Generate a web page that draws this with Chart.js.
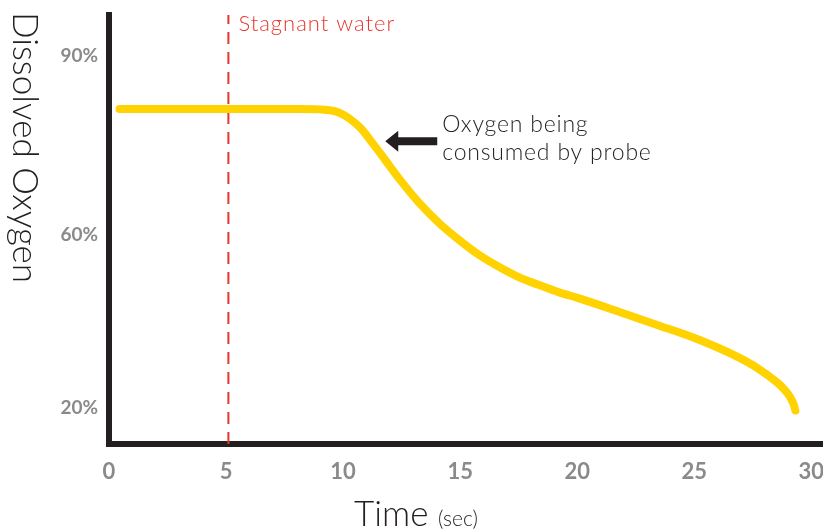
<!DOCTYPE html>
<html>
<head>
<meta charset="utf-8">
<script src="https://cdn.jsdelivr.net/npm/chart.js@4/dist/chart.umd.min.js"></script>
<style>
  html, body { margin: 0; padding: 0; background: #ffffff; }
  #wrap { width: 823px; height: 529px; }
</style>
</head>
<body>
<div id="wrap"><canvas id="chart" width="823" height="529"></canvas></div>
<script>
// ============================================
// DISSOLVED OXYGEN vs TIME
// ============================================

// time in seconds
const timeSec = [0.45, 4.0, 8.1, 9.0, 9.85, 10.7, 11.25, 11.8, 12.4, 13.25, 14.1, 14.95, 15.8,
                 16.65, 17.5, 18.35, 19.2, 20.05, 21.75, 23.45, 25.15, 26.85, 27.7, 28.55,
                 28.85, 29.1, 29.25, 29.32];
// oxygen level, in the axis' own units (the tick labels are not evenly spaced)
const oxygenLevel = [78.1, 78.1, 78.1, 78.0, 77.2, 73.9, 70.2, 66.2, 61.8, 56.2, 51.5, 47.6, 44.1,
                     41.3, 38.9, 37.1, 35.4, 34.0, 30.9, 27.7, 24.4, 20.3, 17.7, 14.3,
                     12.7, 10.9, 9.2, 7.8];

const xTicks = [0, 5, 10, 15, 20, 25, 30];
const yTickValues = [8.4, 48.7, 90.4];
const yTickLabels = ['20%', '60%', '90%'];

const stagnantAt = 5.1;
const arrowPoint = { x: 11.8, y: 70.6 };

const GREY = '#8a8a8c';
const INK = '#231f20';
const RED = '#e8352f';
const YELLOW = '#ffd200';
const LIGHT = '300 ';

const textPlugin = {
    id: 'texts',
    afterDraw(chart) {
        const c = chart.ctx;
        const xs = chart.scales.x;
        const ys = chart.scales.y;
        c.save();

        // y title, reading top to bottom
        c.save();
        c.translate(0, 12);
        c.rotate(Math.PI / 2);
        c.fillStyle = INK;
        c.font = LIGHT + '35px Lato';
        c.textAlign = 'left';
        c.textBaseline = 'alphabetic';
        c.fillText('Dissolved Oxygen', 0, -13);
        c.restore();

        // x title
        c.fillStyle = INK;
        c.textBaseline = 'alphabetic';
        c.textAlign = 'left';
        c.font = LIGHT + '35px Lato';
        c.fillText('Time', 354, 526);
        c.font = LIGHT + '21px Lato';
        c.fillText('(sec)', 438, 526);

        // stagnant label
        c.fillStyle = RED;
        c.font = LIGHT + '22px Lato';
        c.letterSpacing = '1px';
        c.fillText('Stagnant water', xs.getPixelForValue(stagnantAt) + 10, 31);

        // arrow
        const tx = xs.getPixelForValue(arrowPoint.x);
        const ty = ys.getPixelForValue(arrowPoint.y);
        c.letterSpacing = '0px';
        c.fillStyle = INK;
        c.beginPath();
        c.moveTo(tx, ty);
        c.lineTo(tx + 13, ty - 10.5);
        c.lineTo(tx + 13, ty - 4);
        c.lineTo(tx + 52, ty - 4);
        c.lineTo(tx + 52, ty + 4);
        c.lineTo(tx + 13, ty + 4);
        c.lineTo(tx + 13, ty + 10.5);
        c.closePath();
        c.fill();

        // annotation
        c.fillStyle = INK;
        c.font = LIGHT + '23px Lato';
        c.letterSpacing = '0.8px';
        c.fillText('Oxygen being', tx + 57, ty - 9);
        c.fillText('consumed by probe', tx + 57, ty + 19);

        c.restore();
    }
};

new Chart(document.getElementById('chart'), {
    type: 'line',
    data: {
        datasets: [{
            data: timeSec.map((t, i) => ({ x: t, y: oxygenLevel[i] })),
            borderColor: YELLOW,
            borderWidth: 8,
            borderCapStyle: 'round',
            borderJoinStyle: 'round',
            cubicInterpolationMode: 'monotone',
            pointRadius: 0,
            fill: false,
            clip: false
        }, {
            data: [{ x: stagnantAt, y: 0 }, { x: stagnantAt, y: 100 }],
            borderColor: RED,
            borderWidth: 2,
            borderDash: [12, 8],
            pointRadius: 0,
            fill: false
        }]
    },
    plugins: [textPlugin],
    options: {
        responsive: false,
        animation: false,
        layout: { padding: { top: 15, right: 0, left: 0, bottom: 0 } },
        plugins: {
            legend: { display: false },
            tooltip: { enabled: false }
        },
        scales: {
            x: {
                type: 'linear',
                min: 0,
                max: 30.5,
                afterBuildTicks(scale) { scale.ticks = xTicks.map(v => ({ value: v })); },
                afterFit(scale) {
                    scale.height = 85;
                    scale.paddingLeft = 0;
                    scale.paddingRight = 0;
                },
                grid: { display: false, drawTicks: false },
                border: { display: true, color: INK, width: 6 },
                ticks: {
                    color: GREY,
                    padding: 15,
                    maxRotation: 0,
                    font: { family: 'Lato', size: 22, weight: 'bold' }
                }
            },
            y: {
                type: 'linear',
                min: 0,
                max: 100,
                afterBuildTicks(scale) { scale.ticks = yTickValues.map(v => ({ value: v })); },
                afterFit(scale) {
                    scale.width = 109;
                    scale.paddingTop = 0;
                    scale.paddingBottom = 0;
                },
                grid: { display: false, drawTicks: false },
                border: { display: true, color: INK, width: 6 },
                ticks: {
                    color: GREY,
                    padding: 11,
                    callback: (v) => yTickLabels[yTickValues.indexOf(v)],
                    font: { family: 'Lato', size: 19, weight: 'bold' }
                }
            }
        }
    }
});
</script>
</body>
</html>
